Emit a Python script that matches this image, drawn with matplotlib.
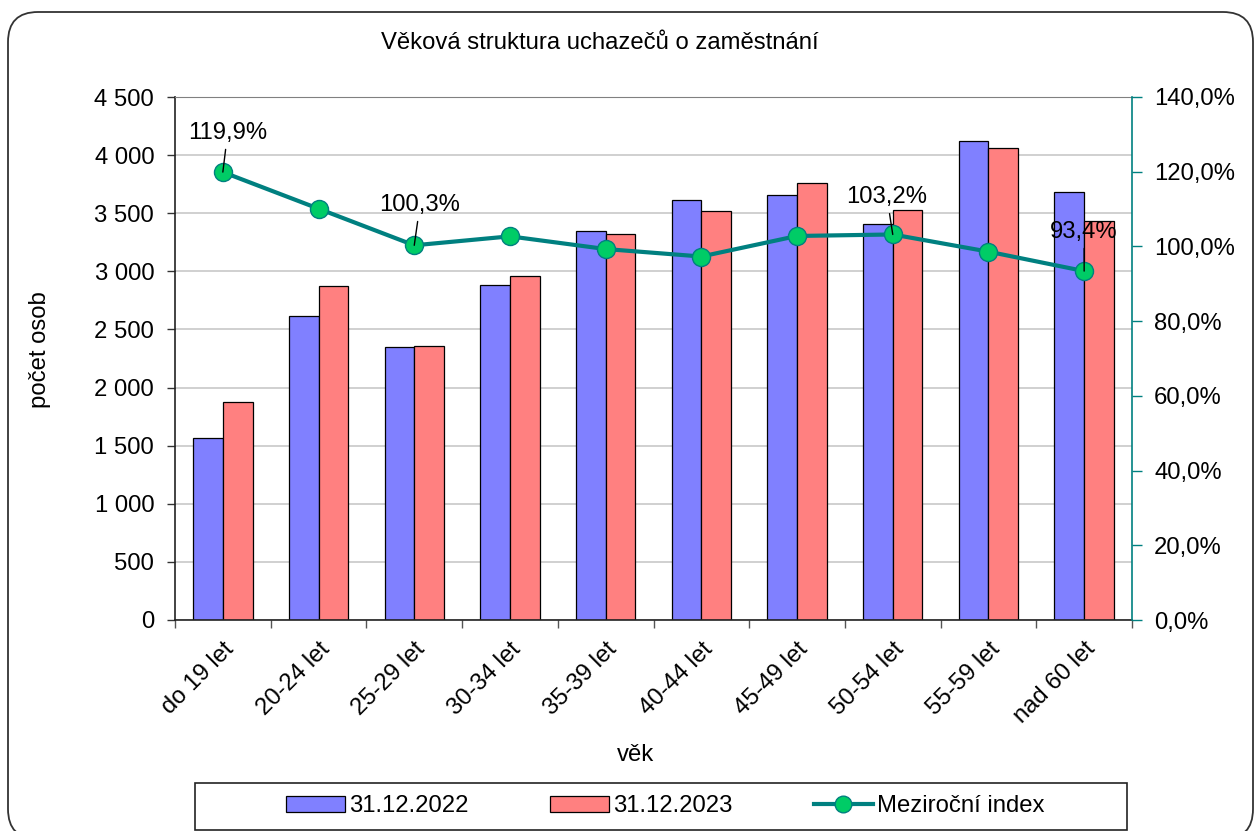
import matplotlib
matplotlib.use("Agg")
import matplotlib.pyplot as plt
import matplotlib.ticker as mticker
from matplotlib.patches import FancyBboxPatch, Rectangle, Patch
from matplotlib.lines import Line2D
from matplotlib.transforms import IdentityTransform
import numpy as np

plt.rcParams['font.family'] = ['Liberation Sans', 'DejaVu Sans']

# data
categories = ['do 19 let', '20-24 let', '25-29 let', '30-34 let', '35-39 let',
              '40-44 let', '45-49 let', '50-54 let', '55-59 let', 'nad 60 let']
counts_2022 = [1565, 2613, 2348, 2881, 3345, 3616, 3658, 3411, 4119, 3679]
counts_2023 = [1878, 2878, 2354, 2958, 3321, 3518, 3759, 3524, 4060, 3435]
index_pct = [119.9, 110.1, 100.3, 102.7, 99.3, 97.3, 102.8, 103.2, 98.6, 93.4]
labeled_points = [0, 2, 7, 9]

BLUE = '#8080FF'
RED = '#FF8080'
TEAL = '#008080'
GREEN = '#00CC66'
FS = 17.2

W, H = 1255, 831
fig = plt.figure(figsize=(W / 100, H / 100), dpi=100)

# rounded outer frame of the chart
frame = FancyBboxPatch((8, -8), 1245, 827, boxstyle="round,pad=0,rounding_size=30",
                       transform=IdentityTransform(), fill=False,
                       edgecolor='#333333', linewidth=1.3)
fig.patches.append(frame)

left, right, top, bottom = 175, 1132, 97, 620
ax = fig.add_axes([left / W, 1 - bottom / H, (right - left) / W, (bottom - top) / H])
ax2 = ax.twinx()

x = np.arange(len(categories))
bw = 0.31
ax.bar(x - bw / 2, counts_2022, bw, color=BLUE, edgecolor='black', linewidth=0.9, zorder=2)
ax.bar(x + bw / 2, counts_2023, bw, color=RED, edgecolor='black', linewidth=0.9, zorder=2)

ax.set_xlim(-0.5, len(categories) - 0.5)
ax.set_ylim(0, 4500)
ax.set_yticks(np.arange(0, 4501, 500))
ax.yaxis.set_major_formatter(mticker.FuncFormatter(lambda v, p: f"{int(v):,}".replace(',', ' ')))
ax.grid(axis='y', color='#c8c8c8', linewidth=1.2, zorder=0)
ax.set_axisbelow(True)

ax.set_xticks(x)
ax.set_xticklabels(categories, rotation=45, ha='right', rotation_mode='anchor', fontsize=FS)
ax.set_xticks(np.arange(-0.5, len(categories)), minor=True)
ax.tick_params(axis='x', which='major', length=0, pad=13)
ax.tick_params(axis='x', which='minor', length=6, width=1, color='#555555', direction='out')
ax.tick_params(axis='y', labelsize=FS, length=6, width=1, color='#333333', pad=9)

for s in ['left', 'bottom']:
    ax.spines[s].set_color('#222222')
    ax.spines[s].set_linewidth(1.2)
ax.spines['top'].set_color('#808080')
ax.spines['right'].set_visible(False)
ax2.spines['top'].set_visible(False)
ax2.spines['left'].set_visible(False)
ax2.spines['bottom'].set_visible(False)
ax2.spines['right'].set_color(TEAL)
ax2.spines['right'].set_linewidth(1.2)

ax2.plot(x, index_pct, color=TEAL, linewidth=3, marker='o', markersize=13,
         markerfacecolor=GREEN, markeredgecolor=TEAL, markeredgewidth=1, zorder=3)
ax2.set_ylim(0, 140)
ax2.set_yticks(np.arange(0, 141, 20))
ax2.yaxis.set_major_formatter(mticker.FuncFormatter(lambda v, p: f"{v:.1f}%".replace('.', ',')))
ax2.tick_params(axis='y', labelsize=FS, length=7, width=1, color=TEAL, pad=9)

# data labels with leader lines
label_offsets = {0: (0.05, 130.4), 2: (2.06, 111.1), 7: (6.94, 113.2), 9: (9.0, 103.9)}
for i in labeled_points:
    txt = f"{index_pct[i]:.1f}%".replace('.', ',')
    ax2.annotate(txt, xy=(x[i], index_pct[i]), xytext=label_offsets[i],
                 ha='center', va='center', fontsize=FS, zorder=5,
                 arrowprops=dict(arrowstyle='-', color='black', lw=1,
                                 shrinkA=2, shrinkB=0))

fig.text(600 / W, 1 - 43 / H, 'Věková struktura uchazečů o zaměstnání',
         ha='center', va='center', fontsize=FS)
fig.text(636 / W, 1 - 755 / H, 'věk', ha='center', va='center', fontsize=FS)
fig.text(40 / W, 1 - 350 / H, 'počet osob', ha='center', va='center',
         rotation=90, fontsize=FS)

# legend box
fig.patches.append(Rectangle((195 / W, 1 - 830 / H), 932 / W, 47 / H,
                             transform=fig.transFigure, fill=False,
                             edgecolor='#222222', linewidth=1.2))
handles = [Patch(facecolor=BLUE, edgecolor='black', linewidth=0.9),
           Patch(facecolor=RED, edgecolor='black', linewidth=0.9),
           Line2D([], [], color=TEAL, linewidth=3, marker='o', markersize=12,
                  markerfacecolor=GREEN, markeredgecolor=TEAL)]
fig.legend(handles, ['31.12.2022', '31.12.2023', 'Meziroční index'],
           loc='center', bbox_to_anchor=(665 / W, 1 - 806 / H), ncol=3,
           frameon=False, fontsize=FS, handlelength=2.5, handleheight=0.65,
           handletextpad=0.15, columnspacing=3.4)

fig.savefig('out.png', dpi=100)
